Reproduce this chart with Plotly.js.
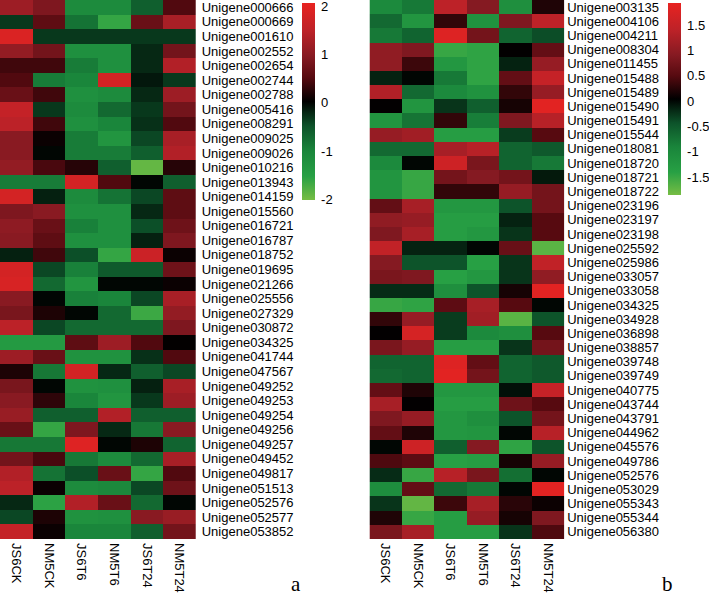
<!DOCTYPE html>
<html>
<head>
<meta charset="utf-8">
<script src="https://cdn.plot.ly/plotly-3.0.1.min.js"></script>
<style>html,body{margin:0;padding:0;background:#fff;}#chart{width:709px;height:596px;}</style>
</head>
<body>
<div id="chart"></div>
<script>
const samples = ["JS6CK", "NM5CK", "JS6T6", "NM5T6", "JS6T24", "NM5T24"];

const genesA = ["Unigene000666","Unigene000669","Unigene001610","Unigene002552","Unigene002654","Unigene002744","Unigene002788","Unigene005416","Unigene008291","Unigene009025","Unigene009026","Unigene010216","Unigene013943","Unigene014159","Unigene015560","Unigene016721","Unigene016787","Unigene018752","Unigene019695","Unigene021266","Unigene025556","Unigene027329","Unigene030872","Unigene034325","Unigene041744","Unigene047567","Unigene049252","Unigene049253","Unigene049254","Unigene049256","Unigene049257","Unigene049452","Unigene049817","Unigene051513","Unigene052576","Unigene052577","Unigene053852"];

const valuesA = [
  [1.2, 0.9, -1.1, -1.1, -0.6, 0.5],
  [-0.3, 0.6, -0.8, -1.6, 0.7, 1.3],
  [1.9, -0.3, -0.3, -0.3, -0.3, -0.3],
  [1.1, 0.8, -1.2, -1.2, -0.2, 0.8],
  [0.4, 0.4, -0.9, -1.2, -0.2, 1.4],
  [0.5, -0.9, -1.0, 1.8, -0.1, -0.3],
  [0.7, 0.4, -1.2, -1.1, -0.2, 1.2],
  [1.6, -0.3, -1.1, -0.7, -0.3, 0.8],
  [1.5, 0.4, -1.2, -1.0, -0.25, 0.5],
  [1.0, 0.1, -0.9, -1.3, -0.4, 1.3],
  [1.0, 0.0, -0.9, -0.9, -0.6, 1.4],
  [1.1, 0.45, 0.25, -0.6, -1.9, 0.25],
  [-0.9, -0.9, 1.8, 0.5, 0.0, -0.6],
  [1.8, -0.15, -1.1, -0.8, -0.4, 0.6],
  [0.9, 1.0, -1.2, -1.2, -0.2, 0.6],
  [1.05, 0.7, -0.95, -1.2, -0.45, 0.75],
  [1.0, 0.6, -1.2, -1.2, -0.15, 0.9],
  [-0.15, 0.4, -0.45, -1.6, 1.7, 0.1],
  [1.8, -0.4, -0.95, -0.55, -0.55, 0.75],
  [1.85, -0.7, -1.3, 0.0, 0.0, 0.1],
  [1.0, 0.0, -0.95, -1.0, -0.4, 1.3],
  [0.85, 0.2, 0.0, -0.7, -1.65, 1.1],
  [1.5, -0.4, -0.7, -0.7, -0.7, 0.9],
  [-1.4, -1.4, 0.6, 1.2, 0.5, 0.05],
  [1.2, 0.7, -1.25, -1.25, -0.25, 0.5],
  [0.2, -0.85, 1.8, -0.2, -0.6, -0.4],
  [0.85, 0.0, -1.25, -1.2, -0.15, 1.3],
  [1.0, 0.3, -1.0, -1.3, -0.3, 1.2],
  [1.15, -0.6, -0.6, 1.4, -0.6, -0.6],
  [0.7, -1.6, 0.9, -0.2, -0.85, 1.0],
  [-0.85, -0.85, 1.95, 0.0, 0.2, -0.65],
  [0.8, 0.45, -0.85, -1.1, -0.7, 1.3],
  [1.4, -0.8, -0.45, 0.7, -1.6, 0.5],
  [1.5, 0.1, -1.1, -1.05, -0.4, 0.75],
  [-0.2, -1.55, 1.4, 0.7, -0.7, 0.0],
  [-0.4, 0.2, -1.25, -1.2, 1.0, 1.15],
  [1.6, 0.1, -1.0, -1.0, -0.6, 0.8]
];

const genesB = ["Unigene003135","Unigene004106","Unigene004211","Unigene008304","Unigene011455","Unigene015488","Unigene015489","Unigene015490","Unigene015491","Unigene015544","Unigene018081","Unigene018720","Unigene018721","Unigene018722","Unigene023196","Unigene023197","Unigene023198","Unigene025592","Unigene025986","Unigene033057","Unigene033058","Unigene034325","Unigene034928","Unigene036898","Unigene038857","Unigene039748","Unigene039749","Unigene040775","Unigene043744","Unigene043791","Unigene044962","Unigene045576","Unigene049786","Unigene052576","Unigene053029","Unigene055343","Unigene055344","Unigene056380"];

const valuesB = [
  [-1.0, -0.8, 1.4, 0.9, -1.1, 0.2],
  [-0.65, -1.2, 0.3, -1.15, 0.85, 1.4],
  [-0.8, -0.6, 1.8, 0.75, -0.6, -0.4],
  [1.0, 0.85, -1.5, -1.45, 0.05, 0.6],
  [1.0, 0.35, -1.25, -1.45, -0.15, 1.05],
  [-0.15, 0.0, -0.8, -1.45, 0.6, 1.5],
  [1.3, -0.65, -1.0, -1.15, 0.3, 1.05],
  [0.05, -1.2, -0.25, -0.55, 0.15, 1.85],
  [-1.2, -0.75, 0.3, -0.85, 0.85, 1.35],
  [1.05, 1.15, -1.35, -1.35, -0.3, 0.5],
  [-0.65, -0.65, 1.2, 1.35, -0.6, -0.5],
  [-1.0, 0.0, 1.6, 0.8, -0.6, -0.8],
  [-1.2, -1.5, 0.75, 0.9, 0.75, -0.1],
  [-1.2, -1.5, 0.3, 0.3, 1.05, 0.75],
  [0.6, 1.2, -1.25, -1.25, -0.45, 0.75],
  [1.0, 1.05, -1.35, -1.35, -0.15, 0.5],
  [0.85, 1.2, -1.35, -1.25, -0.25, 0.5],
  [1.45, -0.15, -0.15, 0.0, 0.65, -1.7],
  [0.9, -0.45, -0.45, -1.4, -0.25, 1.45],
  [0.8, 0.85, -1.4, -1.25, -0.25, 1.0],
  [-0.2, -0.2, -1.1, -0.45, 0.15, 1.85],
  [-1.5, -1.45, 0.55, 1.2, 0.5, 0.0],
  [0.3, 1.05, -0.3, 1.15, -1.7, -0.45],
  [0.05, 1.7, -0.3, -1.0, -1.1, 0.5],
  [0.8, 1.05, -1.35, -1.35, -0.25, 0.75],
  [-0.6, -0.6, 1.8, 0.6, -0.6, -0.5],
  [-0.65, -0.6, 1.85, 0.75, -0.6, -0.5],
  [0.6, 0.2, -1.25, -1.25, -0.05, 1.5],
  [1.2, 0.05, -1.35, -1.35, 0.7, 0.5],
  [0.85, 1.05, -1.25, -1.1, -0.45, 0.75],
  [0.6, 0.2, -1.25, -1.2, 0.0, 1.35],
  [0.0, 1.6, -0.55, 0.9, -1.45, -0.45],
  [0.45, 0.55, -1.4, -1.35, 0.15, 1.05],
  [-0.2, -1.5, 1.35, 0.8, -0.7, 0.0],
  [-1.05, 0.6, -0.65, -0.8, 0.0, 1.85],
  [-0.25, -1.75, 0.35, 1.2, 0.25, 0.1],
  [0.2, -1.5, -1.35, 1.05, 0.15, 0.85],
  [0.8, 1.2, -1.35, -1.35, -0.25, 0.45]
];

const ticksA = [-2, -1, 0, 1, 2];
const ticksB = [-1.5, -1, -0.5, 0, 0.5, 1, 1.5];
const panelLabels = ["a", "b"];

const scale = [
  [0.0, "#76bd44"],
  [0.12, "#27a044"],
  [0.25, "#1a853b"],
  [0.375, "#0d532a"],
  [0.44, "#062a15"],
  [0.5, "#000000"],
  [0.62, "#560a10"],
  [0.73, "#861a22"],
  [0.86, "#bd2228"],
  [1.0, "#e82321"]
];

const W = 709, H = 596;
const font = "Liberation Sans, Arial, Helvetica, sans-serif";
const yDom = [1 - 539 / H, 1];

function cbar(xpx, topPx, lenPx, vals) {
  return {
    x: xpx / W, xanchor: "left", xref: "paper",
    y: 1 - topPx / H, yanchor: "top", yref: "paper",
    len: lenPx, lenmode: "pixels",
    thickness: 13, thicknessmode: "pixels",
    xpad: 0, ypad: 0, outlinewidth: 0,
    tickmode: "array", tickvals: vals, ticktext: vals.map(String),
    ticklabeloverflow: "allow",
    ticks: "outside", ticklen: 4, tickcolor: "rgba(0,0,0,0)",
    tickfont: {family: font, size: 13, color: "#000"}
  };
}

const traces = [
  {
    type: "heatmap", x: samples, y: genesA, z: valuesA,
    xaxis: "x", yaxis: "y",
    colorscale: scale, zmin: -2.01, zmax: 2.08,
    colorbar: cbar(302, 2.7, 197, ticksA),
    hoverinfo: "skip"
  },
  {
    type: "heatmap", x: samples, y: genesB, z: valuesB,
    xaxis: "x2", yaxis: "y2",
    colorscale: scale, zmin: -1.86, zmax: 1.93,
    colorbar: cbar(667.7, 3.3, 192, ticksB),
    hoverinfo: "skip"
  }
];

function xax(d, anchor) {
  return {domain: d, anchor: anchor, tickangle: 90, showgrid: false, zeroline: false,
    showline: false, ticks: "", tickmode: "array", tickvals: samples, ticktext: samples,
    tickfont: {family: font, size: 13, color: "#000"}, ticklabelstandoff: 3};
}
function yax(anchor, standoff, genes) {
  return {domain: yDom, anchor: anchor, side: "right", autorange: "reversed",
    showgrid: false, zeroline: false, showline: false, ticks: "",
    tickmode: "array", tickvals: genes, ticktext: genes,
    tickfont: {family: font, size: 13, color: "#000"}, ticklabelstandoff: standoff};
}

const layout = {
  width: W, height: H,
  margin: {l: 0, r: 0, t: 0, b: 0},
  paper_bgcolor: "#fff", plot_bgcolor: "#fff",
  showlegend: false,
  xaxis: xax([0, 196 / W], "y"),
  yaxis: yax("x", 5, genesA),
  xaxis2: xax([370 / W, 565 / W], "y2"),
  yaxis2: yax("x2", 2, genesB),
  annotations: [
    {text: panelLabels[0], x: 296 / W, y: 0, xref: "paper", yref: "paper", xanchor: "center", yanchor: "bottom",
     yshift: -2, showarrow: false, font: {family: "Liberation Serif, DejaVu Serif, serif", size: 21, color: "#000"}},
    {text: panelLabels[1], x: 668 / W, y: 0, xref: "paper", yref: "paper", xanchor: "center", yanchor: "bottom",
     yshift: -2, showarrow: false, font: {family: "Liberation Serif, DejaVu Serif, serif", size: 21, color: "#000"}}
  ]
};

Plotly.newPlot("chart", traces, layout, {displayModeBar: false, staticPlot: true});
</script>
</body>
</html>
